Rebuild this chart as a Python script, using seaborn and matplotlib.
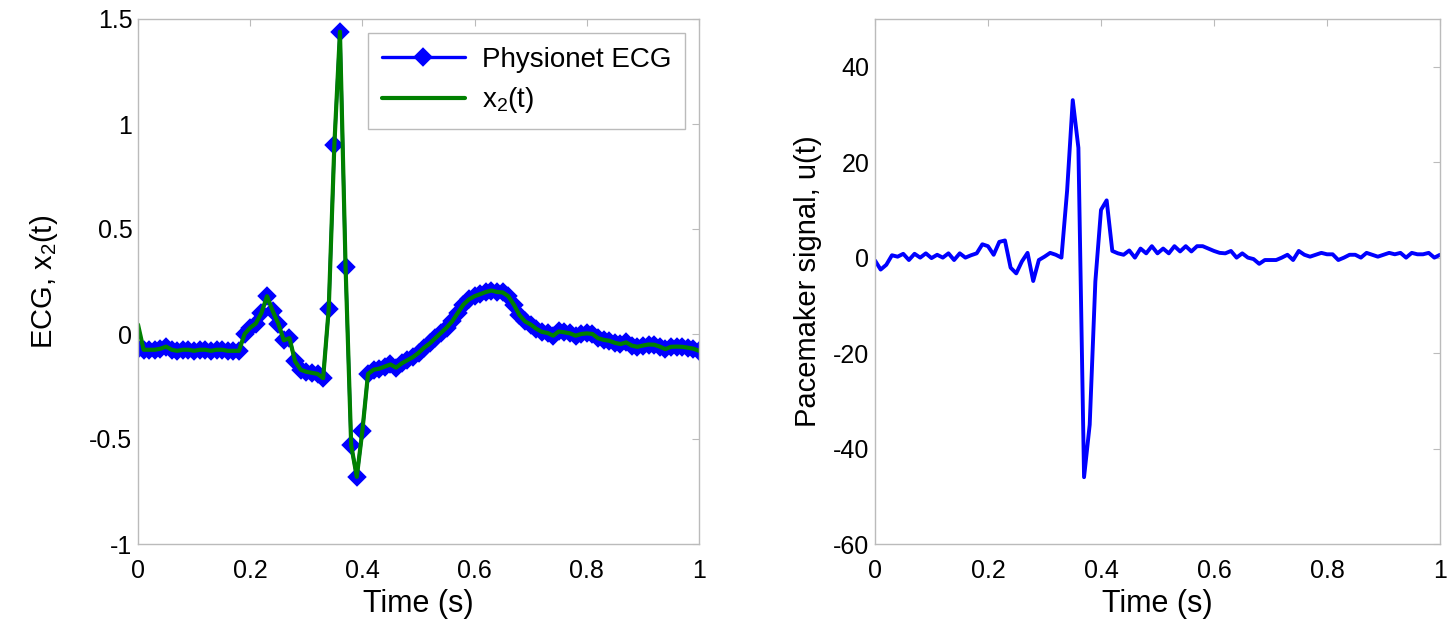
"""ECG vs model output and pacemaker signal, two panels."""
import matplotlib
matplotlib.use("Agg")
import matplotlib.pyplot as plt
import numpy as np
import pandas as pd
import seaborn as sns

# time grid (s), 0.01 s sampling
tempo = np.linspace(0, 1, 101)

# Physionet ECG (blue markers)
ecg_physionet = [
    -0.07, -0.075, -0.075, -0.075, -0.07, -0.06, -0.075, -0.08, -0.075, -0.075,
    -0.08, -0.075, -0.075, -0.08, -0.075, -0.075, -0.08, -0.08, -0.08, 0.0,
    0.03, 0.05, 0.10, 0.18, 0.11, 0.05, -0.03, -0.02, -0.13, -0.17,
    -0.18, -0.185, -0.19, -0.21, 0.12, 0.90, 1.44, 0.32, -0.53, -0.68,
    -0.46, -0.19, -0.17, -0.165, -0.155, -0.145, -0.16, -0.14, -0.125, -0.11,
    -0.09, -0.065, -0.045, -0.02, 0.005, 0.03, 0.06, 0.10, 0.14, 0.165,
    0.18, 0.19, 0.20, 0.207, 0.20, 0.198, 0.18, 0.14, 0.09, 0.06,
    0.045, 0.025, 0.01, 0.005, -0.008, 0.012, 0.008, 0.003, -0.008, 0.0,
    0.003, 0.0, -0.02, -0.028, -0.032, -0.042, -0.048, -0.04, -0.055, -0.061,
    -0.055, -0.05, -0.051, -0.06, -0.072, -0.061, -0.06, -0.061, -0.065, -0.07,
    -0.08]

# saida do modelo x2(t): igual ao ECG exceto o primeiro ponto
x2_modelo = [0.045] + ecg_physionet[1:]

# sinal do marcapasso u(t)
sinal_u = [
    -0.6, -2.5, -1.5, 0.5, 0.2, 0.8, -0.5, 0.8, 0.0, 0.9,
    -0.1, 0.6, 0.0, 0.9, -0.5, 0.9, 0.0, 0.5, 0.9, 2.8,
    2.4, 0.6, 3.3, 3.6, -2.1, -3.3, -0.8, 1.0, -4.9, -0.5,
    0.2, 1.0, 0.6, 0.0, 14.0, 33.0, 23.0, -46.0, -35.0, -5.0,
    10.0, 12.0, 1.4, 0.9, 0.6, 1.5, 0.0, 1.9, 0.9, 2.4,
    0.9, 1.9, 0.9, 2.4, 1.3, 2.4, 1.3, 2.4, 2.4, 1.9,
    1.4, 1.0, 0.9, 1.4, 0.0, 0.9, 0.0, -0.3, -1.3, -0.5,
    -0.5, -0.5, 0.0, 0.6, -0.5, 1.4, 0.6, 0.2, 0.6, 1.0,
    0.7, 0.7, -0.5, 0.0, 0.6, 0.6, 0.0, 1.0, 0.6, 0.2,
    0.6, 1.0, 0.7, 1.0, 0.0, 1.0, 0.7, 0.7, 1.0, 0.0,
    0.6]

df = pd.DataFrame({'t': tempo, 'ecg': ecg_physionet,
                   'x2': x2_modelo, 'u': sinal_u})

sns.set_style('white')
plt.rcParams['font.family'] = ['Liberation Sans', 'DejaVu Sans']
plt.rcParams['mathtext.default'] = 'regular'
plt.rcParams['axes.unicode_minus'] = False
plt.rcParams['text.color'] = 'black'
plt.rcParams['axes.labelcolor'] = 'black'

fig = plt.figure(figsize=(14.55, 6.28), dpi=100)
ax1 = fig.add_axes([138 / 1455, 1 - 544 / 628, 561 / 1455, 525 / 628])
ax2 = fig.add_axes([875 / 1455, 1 - 544 / 628, 565 / 1455, 525 / 628])

# painel esquerdo: ECG e x2(t)
sns.lineplot(data=df, x='t', y='ecg', ax=ax1, color='#0000ff', lw=2.4,
             marker='D', markersize=7, markeredgewidth=2.8,
             markeredgecolor='#0000ff', label='Physionet ECG')
sns.lineplot(data=df, x='t', y='x2', ax=ax1, color='#008000', lw=3,
             label='x$_2$(t)')
ax1.set_xlim(0, 1)
ax1.set_ylim(-1, 1.5)
ax1.set_yticks([-1, -0.5, 0, 0.5, 1, 1.5])
ax1.set_yticklabels(['-1', '-0.5', '0', '0.5', '1', '1.5'])
ax1.set_ylabel('ECG, x$_2$(t)', fontsize=21, labelpad=21)
ax1.legend(loc='upper right', fontsize=20, handlelength=3.0,
           fancybox=False, edgecolor='#bbbbbb', framealpha=1,
           borderpad=0.5, labelspacing=0.45, handletextpad=0.6,
           borderaxespad=0.5)

# painel direito: sinal do marcapasso
sns.lineplot(data=df, x='t', y='u', ax=ax2, color='#0000ff', lw=2.8)
ax2.set_xlim(0, 1)
ax2.set_ylim(-60, 50)
ax2.set_yticks([-60, -40, -20, 0, 20, 40])
ax2.set_ylabel('Pacemaker signal, u(t)', fontsize=21, labelpad=8)

for ax in (ax1, ax2):
    ax.set_xticks([0, 0.2, 0.4, 0.6, 0.8, 1])
    ax.set_xticklabels(['0', '0.2', '0.4', '0.6', '0.8', '1'])
    ax.set_xlabel('Time (s)', fontsize=22, labelpad=4)
    ax.tick_params(direction='in', length=5, color='#bbbbbb',
                   labelcolor='black', top=True, right=True, labelsize=18)
    ax.tick_params(axis='x', pad=11)
    ax.tick_params(axis='y', pad=4)
    for spine in ax.spines.values():
        spine.set_color('#bbbbbb')
        spine.set_linewidth(1)

fig.savefig('out.png', dpi=100)
